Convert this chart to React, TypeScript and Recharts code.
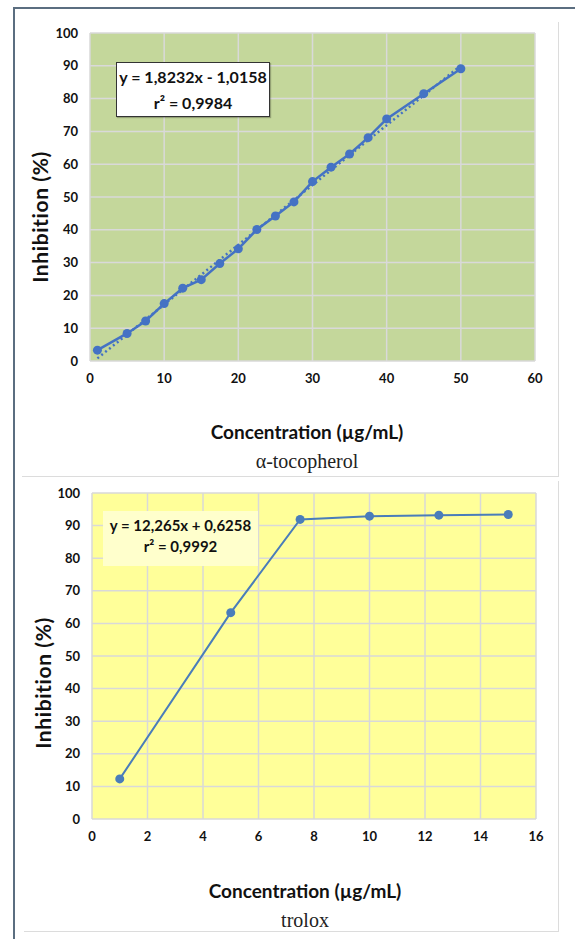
import { LineChart, Line, XAxis, YAxis, CartesianGrid } from "recharts"

// α-tocopherol calibration points (concentration µg/mL, inhibition %)
const tocoConc = [1, 5, 7.5, 10, 12.5, 15, 17.5, 20, 22.5, 25, 27.5, 30, 32.5, 35, 37.5, 40, 45, 50]
const tocoInhib = [3.3, 8.4, 12.2, 17.5, 22.2, 24.8, 29.7, 34.2, 40.1, 44.2, 48.5, 54.7, 59.1, 63.1, 68.1, 73.8, 81.5, 89.1]
// dotted linear trendline, ends
const tocoTrendConc = [1, 50]
const tocoTrendInhib = [0.8, 90.1]

// trolox points
const troloxConc = [1, 5, 7.5, 10, 12.5, 15]
const troloxInhib = [12.3, 63.3, 91.9, 92.9, 93.2, 93.4]

const inhibTicks = [0, 10, 20, 30, 40, 50, 60, 70, 80, 90, 100]
const tocoTicks = [0, 10, 20, 30, 40, 50, 60]
const troloxTicks = [0, 2, 4, 6, 8, 10, 12, 14, 16]

const SANS = "Lato, 'Liberation Sans', sans-serif"
const SERIF = "'Liberation Serif', 'DejaVu Serif', serif"

const toPoints = (xs: number[], ys: number[]) => xs.map((x, i) => ({ x, y: ys[i] }))

const tickStyle = { fontFamily: SANS, fontWeight: 700, fontSize: 13, fill: "#111" }

const abs = (left: number, top: number) => ({ position: "absolute" as const, left, top })

function AxisTitles({ xCenter, xTop, subTop, sub, yCx, yCy }: { xCenter: number; xTop: number; subTop: number; sub: string; yCx: number; yCy: number }) {
  return (
    <>
      <div
        style={{
          ...abs(yCx, yCy),
          transform: "translate(-50%, -50%) rotate(-90deg)",
          whiteSpace: "nowrap",
          fontFamily: SANS,
          fontWeight: 700,
          fontSize: 21,
          letterSpacing: 0.6,
          color: "#111",
        }}
      >
        Inhibition (%)
      </div>
      <div
        style={{
          ...abs(xCenter, xTop),
          transform: "translate(-50%, -50%)",
          whiteSpace: "nowrap",
          fontFamily: SANS,
          fontWeight: 700,
          fontSize: 19,
          color: "#111",
        }}
      >
        Concentration (µg/mL)
      </div>
      <div
        style={{
          ...abs(xCenter, subTop),
          transform: "translate(-50%, -50%)",
          whiteSpace: "nowrap",
          fontFamily: SERIF,
          fontSize: 20,
          color: "#222",
        }}
      >
        {sub}
      </div>
    </>
  )
}

export default function App() {
  const tocoData = toPoints(tocoConc, tocoInhib)
  const tocoTrend = toPoints(tocoTrendConc, tocoTrendInhib)
  const troloxData = toPoints(troloxConc, troloxInhib)

  return (
    <div style={{ position: "absolute", left: 0, top: 0, width: 575, height: 939, background: "#fff", overflow: "hidden" }}>
      {/* outer dark frame */}
      <div style={{ ...abs(13, 7), width: 575, height: 939, borderLeft: "2px solid #5b6e80", borderTop: "2px solid #5b6e80" }} />
      {/* light panel frames */}
      <div style={{ ...abs(22, 22), width: 536, height: 454, borderRight: "1px solid #dcdcdc", borderBottom: "1px solid #dcdcdc" }} />
      <div style={{ ...abs(24, 481), width: 534, height: 450, borderRight: "1px solid #dcdcdc", borderBottom: "1px solid #dcdcdc" }} />

      {/* α-tocopherol */}
      <div style={abs(0, 0)}>
        <LineChart width={575} height={470} margin={{ top: 33, right: 40, left: 50, bottom: 79 }}>
          <CartesianGrid fill="#c4d79b" stroke="#d9d9d9" strokeWidth={1.5} />
          <XAxis
            type="number"
            dataKey="x"
            domain={[0, 60]}
            ticks={tocoTicks}
            axisLine={false}
            tickLine={false}
            tickSize={8}
            tickMargin={5}
            height={30}
            tick={tickStyle}
            allowDuplicatedCategory={false}
          />
          <YAxis
            type="number"
            domain={[0, 100]}
            ticks={inhibTicks}
            axisLine={false}
            tickLine={false}
            tickSize={8}
            tickMargin={4}
            width={40}
            tick={tickStyle}
          />
          <Line
            data={tocoTrend}
            dataKey="y"
            stroke="#4472c4"
            strokeWidth={2.5}
            strokeDasharray="2 3"
            dot={false}
            isAnimationActive={false}
          />
          <Line
            data={tocoData}
            dataKey="y"
            stroke="#4472c4"
            strokeWidth={2.5}
            dot={{ r: 4.5, fill: "#4472c4", stroke: "#4472c4", strokeWidth: 0 }}
            isAnimationActive={false}
          />
        </LineChart>
      </div>
      <div
        style={{
          ...abs(116, 61.5),
          width: 154,
          height: 55,
          background: "#fff",
          border: "1px solid #333",
          boxShadow: "1px 1px 1px rgba(0,0,0,0.25)",
          fontFamily: SANS,
          fontWeight: 700,
          fontSize: 16,
          lineHeight: "26px",
          textAlign: "center",
          whiteSpace: "nowrap",
          color: "#111",
          paddingTop: 1,
          boxSizing: "border-box",
        }}
      >
        <div>y = 1,8232x - 1,0158</div>
        <div>r² = 0,9984</div>
      </div>
      <AxisTitles xCenter={307} xTop={431} subTop={461} sub="α-tocopherol" yCx={38.5} yCy={217} />

      {/* trolox */}
      <div style={abs(0, 470)}>
        <LineChart width={575} height={469} margin={{ top: 23, right: 39, left: 52, bottom: 90 }}>
          <CartesianGrid fill="#ffff99" stroke="#d9d9d9" strokeWidth={1.5} />
          <XAxis
            type="number"
            dataKey="x"
            domain={[0, 16]}
            ticks={troloxTicks}
            axisLine={false}
            tickLine={false}
            tickSize={8}
            tickMargin={5}
            height={30}
            tick={tickStyle}
            allowDuplicatedCategory={false}
          />
          <YAxis
            type="number"
            domain={[0, 100]}
            ticks={inhibTicks}
            axisLine={false}
            tickLine={false}
            tickSize={8}
            tickMargin={4}
            width={40}
            tick={tickStyle}
          />
          <Line
            data={troloxData}
            dataKey="y"
            stroke="#4a7dba"
            strokeWidth={2}
            dot={{ r: 4.5, fill: "#4a7dba", stroke: "#4a7dba", strokeWidth: 0 }}
            isAnimationActive={false}
          />
        </LineChart>
      </div>
      <div
        style={{
          ...abs(103, 510.5),
          width: 155,
          height: 55,
          background: "#ffffcc",
          fontFamily: SANS,
          fontWeight: 700,
          fontSize: 15,
          lineHeight: "21px",
          textAlign: "center",
          whiteSpace: "nowrap",
          color: "#111",
          paddingTop: 4,
          boxSizing: "border-box",
        }}
      >
        <div>y = 12,265x + 0,6258</div>
        <div>r² = 0,9992</div>
      </div>
      <AxisTitles xCenter={305} xTop={890} subTop={920} sub="trolox" yCx={42} yCy={683} />
    </div>
  )
}
